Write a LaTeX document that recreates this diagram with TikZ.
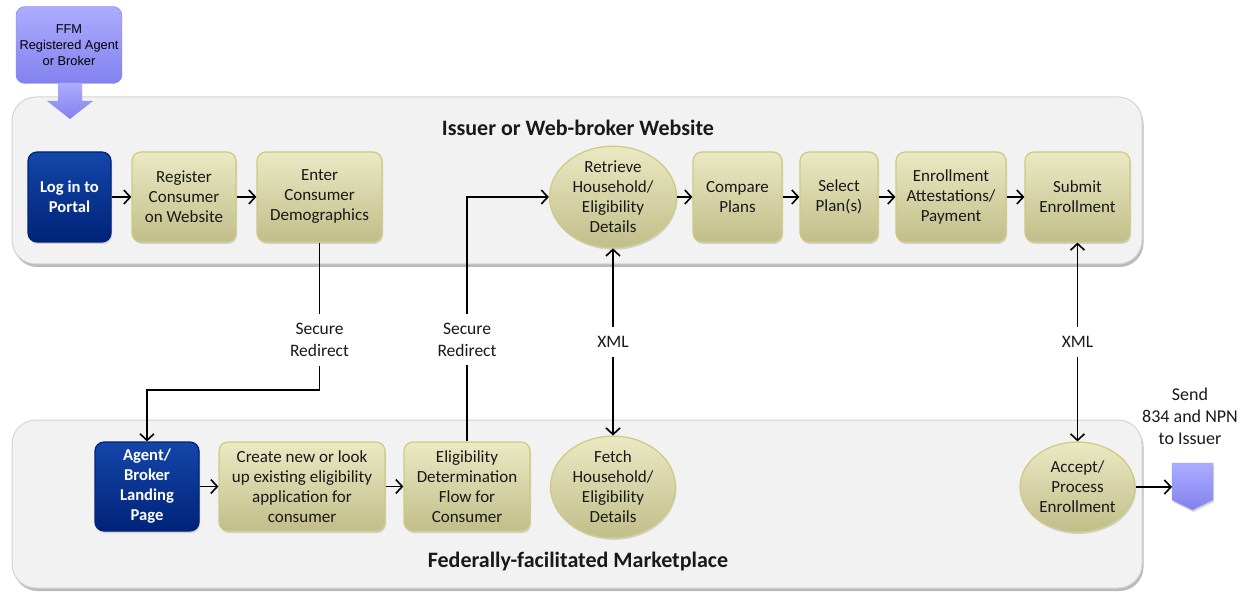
\documentclass[tikz,border=0pt]{standalone}
\usepackage{fontspec}
\setmainfont{Carlito}
\newfontfamily\arialf{Liberation Sans}
\usetikzlibrary{shapes.geometric,arrows.meta,shadows}
\definecolor{olT}{RGB}{234,233,195}
\definecolor{olB}{RGB}{194,190,138}
\definecolor{olD}{RGB}{206,202,130}
\definecolor{bluT}{RGB}{20,70,170}
\definecolor{bluB}{RGB}{0,35,120}
\definecolor{lavT}{RGB}{172,172,255}
\definecolor{lavB}{RGB}{130,130,238}
\definecolor{panelF}{RGB}{242,242,242}
\definecolor{panelD}{RGB}{212,212,212}
\begin{document}
\begin{tikzpicture}[x=1pt,y=-1pt,
  panel/.style={draw=panelD, line width=1pt, fill=panelF, rounded corners=24pt,
    drop shadow={shadow xshift=1.5pt, shadow yshift=-3pt, fill=black!45, opacity=0.6}},
  box/.style={rectangle, rounded corners=9pt, draw=olD, line width=1.2pt,
    top color=olT, bottom color=olB, inner sep=0pt, align=center,
    font=\fontsize{17}{20}\selectfont, text=black!90,
    drop shadow={shadow xshift=1pt, shadow yshift=-2pt, fill=black!30, opacity=0.5}},
  oval/.style={box, ellipse},
  bbox/.style={box, draw=bluB, top color=bluT, bottom color=bluB, text=white,
    font=\bfseries\fontsize{16.6}{20}\selectfont},
  ffmbox/.style={rectangle, rounded corners=9pt, top color=lavT, bottom color=lavB,
    draw=lavB, inner sep=0pt, align=center, font=\arialf\fontsize{12.8}{16}\selectfont},
  arr/.style={line width=1.6pt, -{Straight Barb[length=6.5pt,width=14pt]}},
  darr/.style={line width=1.6pt, {Straight Barb[length=6.5pt,width=14pt]}-{Straight Barb[length=6.5pt,width=14pt]}},
  lbl/.style={fill=white, inner xsep=2pt, inner ysep=9pt, align=center,
    font=\fontsize{17.5}{22}\selectfont, text=black!90},
  ttl/.style={font=\bfseries\fontsize{22}{26}\selectfont, text=black!90}
]
\useasboundingbox (0,0) rectangle (1252,593);
\fill[white] (0,0) rectangle (1252,593);

% panels
\path[panel] (12,97) rectangle (1142,264);
\path[panel] (12,420) rectangle (1142,588);

% FFM agent box and arrow
\node[ffmbox, minimum width=106pt, minimum height=77pt] (ffm) at (69,45) {FFM\\Registered Agent\\or Broker};
\path[top color=lavT, bottom color=lavB] (58,83) -- (82,83) -- (82,101) -- (93,101) -- (70,119) -- (47,101) -- (58,101) -- cycle;

% titles
\node[ttl] (t1) at (578,128) {Issuer or Web-broker Website};
\node[ttl] (t2) at (578,562) {Federally-facilitated Marketplace};

% top row
\node[bbox, minimum width=83pt, minimum height=90pt] (login) at (69.5,197) {Log in to\\Portal};
\node[box, minimum width=104pt, minimum height=90pt] (reg) at (184,197) {Register\\Consumer\\on Website};
\node[box, minimum width=125pt, minimum height=90pt] (enter) at (319.5,197) {Enter\\Consumer\\Demographics};
\node[oval, minimum width=127pt, minimum height=95pt] (retr) at (613,197) {Retrieve\\Household/\\Eligibility\\Details};
\node[box, minimum width=89pt, minimum height=90pt] (comp) at (737.5,197) {Compare\\Plans};
\node[box, minimum width=78pt, minimum height=90pt] (sel) at (839,197) {Select\\Plan(s)};
\node[box, minimum width=110pt, minimum height=90pt] (enr) at (951,197) {Enrollment\\Attestations/\\Payment};
\node[box, minimum width=105pt, minimum height=90pt] (sub) at (1077.5,197) {Submit\\Enrollment};

% bottom row
\node[bbox, minimum width=104pt, minimum height=89pt] (agent) at (147,486.5) {Agent/\\Broker\\Landing\\Page};
\node[box, minimum width=166pt, minimum height=89pt] (create) at (302,486.5) {Create new or look\\up existing eligibility\\application for\\consumer};
\node[box, minimum width=126pt, minimum height=89pt] (elig) at (467,486.5) {Eligibility\\Determination\\Flow for\\Consumer};
\node[oval, minimum width=125pt, minimum height=90pt] (fetch) at (613,487) {Fetch\\Household/\\Eligibility\\Details};
\node[oval, minimum width=115pt, minimum height=90pt] (acc) at (1077.5,487) {Accept/\\Process\\Enrollment};

% send to issuer
\node[align=center, font=\fontsize{18}{22}\selectfont, text=black!90] (send) at (1190,416) {Send\\834 and NPN\\to Issuer};
\coordinate (pent) at (1172,487);
\path[top color=lavT, bottom color=lavB, draw=lavB!80,
  drop shadow={shadow xshift=1pt, shadow yshift=-2pt, fill=black!30, opacity=0.5}]
  (1172,463) -- (1213,463) -- (1213,500) -- (1192.5,510) -- (1172,500) -- cycle;

% connectors top row
\draw[arr] (login) -- (reg);
\draw[arr] (reg) -- (enter);
\draw[arr] (retr) -- (comp);
\draw[arr] (comp) -- (sel);
\draw[arr] (sel) -- (enr);
\draw[arr] (enr) -- (sub);

% connectors bottom row
\draw[arr] (agent) -- (create);
\draw[arr] (create) -- (elig);
\draw[arr] (acc.east) -- (pent);

% cross connectors
\coordinate (c1) at (319.5,390);
\draw[arr] (enter.south) -- node[lbl, pos=0.66] {Secure\\Redirect} (c1) -| (agent.north);
\draw[arr] (elig.north) -- node[lbl, pos=0.416] {Secure\\Redirect} (elig.north |- retr.west) -- (retr.west);
\draw[darr] (retr.south) -- node[lbl] {XML} (fetch.north);
\draw[darr] (sub.south) -- node[lbl] {XML} (acc.north);
\end{tikzpicture}
\end{document}
